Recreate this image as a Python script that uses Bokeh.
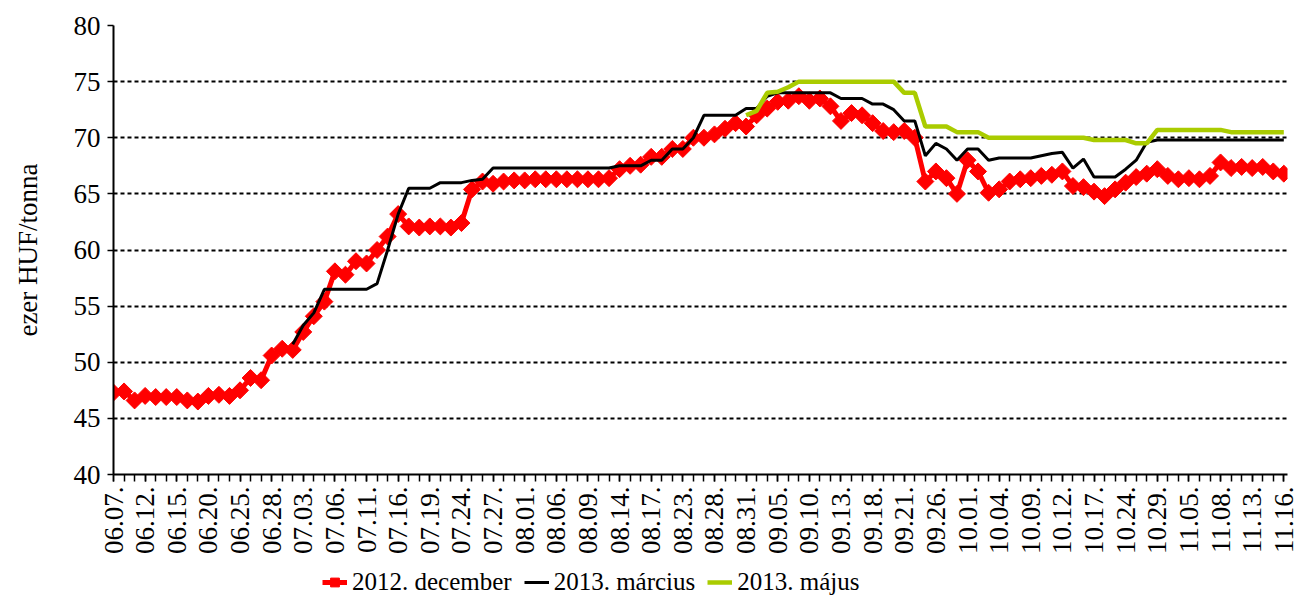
import math
import numpy as np
from bokeh.plotting import figure
from bokeh.layouts import column
from bokeh.models import Range1d, FixedTicker, Legend, LegendItem
from bokeh.embed import file_html
from bokeh.resources import INLINE

# ---- data ----
dates = ["06.07.", "06.08.", "06.11.", "06.12.", "06.13.", "06.14.", "06.15.", "06.18.", "06.19.", "06.20.",
         "06.21.", "06.22.", "06.25.", "06.26.", "06.27.", "06.28.", "06.29.", "07.02.", "07.03.", "07.04.",
         "07.05.", "07.06.", "07.09.", "07.10.", "07.11.", "07.12.", "07.13.", "07.16.", "07.17.", "07.18.",
         "07.19.", "07.20.", "07.23.", "07.24.", "07.25.", "07.26.", "07.27.", "07.30.", "07.31.", "08.01.",
         "08.02.", "08.03.", "08.06.", "08.07.", "08.08.", "08.09.", "08.10.", "08.13.", "08.14.", "08.15.",
         "08.16.", "08.17.", "08.21.", "08.22.", "08.23.", "08.24.", "08.27.", "08.28.", "08.29.", "08.30.",
         "08.31.", "09.03.", "09.04.", "09.05.", "09.06.", "09.07.", "09.10.", "09.11.", "09.12.", "09.13.",
         "09.14.", "09.17.", "09.18.", "09.19.", "09.20.", "09.21.", "09.24.", "09.25.", "09.26.", "09.27.",
         "09.28.", "10.01.", "10.02.", "10.03.", "10.04.", "10.05.", "10.08.", "10.09.", "10.10.", "10.11.",
         "10.12.", "10.15.", "10.16.", "10.17.", "10.18.", "10.19.", "10.24.", "10.25.", "10.26.", "10.29.",
         "10.30.", "10.31.", "11.05.", "11.06.", "11.07.", "11.08.", "11.09.", "11.12.", "11.13.", "11.14.",
         "11.15.", "11.16."]

dec2012 = [47.3, 47.4, 46.6, 47.0, 46.9, 46.9, 46.9, 46.6, 46.5, 47.0,
           47.1, 47.0, 47.5, 48.6, 48.4, 50.6, 51.2, 51.1, 52.7, 54.1,
           55.4, 58.1, 57.8, 59.0, 58.8, 60.0, 61.2, 63.2, 62.1, 62.0,
           62.1, 62.1, 62.0, 62.4, 65.4, 66.1, 65.9, 66.1, 66.2, 66.2,
           66.3, 66.3, 66.3, 66.3, 66.3, 66.3, 66.3, 66.4, 67.2, 67.5,
           67.6, 68.3, 68.3, 69.0, 69.0, 70.0, 70.0, 70.3, 70.8, 71.3,
           71.0, 72.0, 72.6, 73.2, 73.3, 73.7, 73.3, 73.5, 72.8, 71.5,
           72.2, 72.0, 71.3, 70.6, 70.5, 70.6, 70.0, 66.1, 67.0, 66.4,
           65.0, 68.0, 67.0, 65.1, 65.4, 66.1, 66.3, 66.4, 66.6, 66.7,
           67.0, 65.7, 65.6, 65.2, 64.8, 65.4, 66.0, 66.5, 66.8, 67.2,
           66.6, 66.3, 66.4, 66.3, 66.6, 67.8, 67.3, 67.4, 67.3, 67.4,
           67.0, 66.8]

mar2013 = [None] * 17 + [
    51.6, 53.3, 54.4, 56.5, 56.5, 56.5, 56.5, 56.5, 57.0, 60.0,
    63.2, 65.5, 65.5, 65.5, 66.0, 66.0, 66.0, 66.2, 66.3, 67.3,
    67.3, 67.3, 67.3, 67.3, 67.3, 67.3, 67.3, 67.3, 67.3, 67.3,
    67.3, 67.5, 67.5, 67.5, 68.0, 68.0, 69.0, 69.0, 70.0, 72.0,
    72.0, 72.0, 72.0, 72.6, 72.6, 73.7, 74.0, 74.0, 74.0, 74.0,
    74.0, 74.0, 73.5, 73.5, 73.5, 73.0, 73.0, 72.5, 71.5, 71.5,
    68.4, 69.5, 69.0, 68.0, 69.0, 69.0, 68.0, 68.2, 68.2, 68.2,
    68.2, 68.4, 68.6, 68.7, 67.3, 68.1, 66.5, 66.5, 66.5, 67.2,
    68.0, 69.6, 69.8, 69.8, 69.8, 69.8, 69.8, 69.8, 69.8, 69.8,
    69.8, 69.8, 69.8, 69.8, 69.8]

maj2013 = [None] * 60 + [
    72.0, 72.4, 74.0, 74.1, 74.5, 75.0, 75.0, 75.0, 75.0, 75.0,
    75.0, 75.0, 75.0, 75.0, 75.0, 74.0, 74.0, 71.0, 71.0, 71.0,
    70.5, 70.5, 70.5, 70.0, 70.0, 70.0, 70.0, 70.0, 70.0, 70.0,
    70.0, 70.0, 70.0, 69.8, 69.8, 69.8, 69.8, 69.5, 69.5, 70.7,
    70.7, 70.7, 70.7, 70.7, 70.7, 70.7, 70.5, 70.5, 70.5, 70.5,
    70.5, 70.5]

series_names = ["2012. december", "2013. március", "2013. május"]
y_ticks = [40, 45, 50, 55, 60, 65, 70, 75, 80]
label_every = 3


def clean(v):
    return [np.nan if a is None else a for a in v]


x = list(range(len(dates)))
FONT = "Liberation Serif"
FS = "27px"
RED, BLACK, GREEN = "#ff0000", "black", "#aacc00"

p = figure(frame_width=1174, frame_height=449,
           x_range=Range1d(0, len(dates) - 1 + 0.35), y_range=Range1d(40, 80),
           output_backend="svg", toolbar_location=None,
           min_border_left=113, min_border_top=25, min_border_right=11, min_border_bottom=92)
p.outline_line_color = None
p.background_fill_color = "white"

# axes
p.xaxis.ticker = FixedTicker(ticks=x[::label_every], minor_ticks=x)
p.xaxis.major_label_overrides = {i: dates[i] for i in x[::label_every]}
p.xaxis.major_label_orientation = math.pi / 2
p.xaxis.major_label_text_font = FONT
p.xaxis.major_label_text_font_size = FS
p.xaxis.major_label_text_color = "black"
p.xaxis.major_label_standoff = 5
p.xaxis.major_tick_in = 0
p.xaxis.major_tick_out = 7
p.xaxis.minor_tick_in = 0
p.xaxis.minor_tick_out = 7
p.xaxis.major_tick_line_color = "black"
p.xaxis.minor_tick_line_color = "black"
p.xaxis.major_tick_line_width = 1.5
p.xaxis.minor_tick_line_width = 1.5
p.xaxis.axis_line_color = "black"
p.xaxis.axis_line_width = 2

p.yaxis.ticker = FixedTicker(ticks=y_ticks, minor_ticks=[])
p.yaxis.major_label_text_font = FONT
p.yaxis.major_label_text_font_size = FS
p.yaxis.major_label_text_color = "black"
p.yaxis.major_label_standoff = 7
p.yaxis.major_tick_in = 0
p.yaxis.major_tick_out = 6
p.yaxis.major_tick_line_color = "black"
p.yaxis.major_tick_line_width = 1.5
p.yaxis.axis_line_color = "black"
p.yaxis.axis_line_width = 2
p.yaxis.axis_label = "ezer HUF/tonna"
p.yaxis.axis_label_text_font = FONT
p.yaxis.axis_label_text_font_size = FS
p.yaxis.axis_label_text_font_style = "normal"
p.yaxis.axis_label_text_color = "black"
p.yaxis.axis_label_standoff = 28

p.xgrid.visible = False
p.ygrid.ticker = FixedTicker(ticks=y_ticks[1:])
p.ygrid.grid_line_color = "black"
p.ygrid.grid_line_dash = "4 3"
p.ygrid.grid_line_width = 2


def draw(fig):
    a = fig.line(x, clean(dec2012), line_color=RED, line_width=5)
    b = fig.scatter(x, clean(dec2012), marker="square", angle=math.pi / 4, size=12,
                    fill_color=RED, line_color=RED)
    c = fig.line(x, clean(mar2013), line_color=BLACK, line_width=3)
    d = fig.line(x, clean(maj2013), line_color=GREEN, line_width=4.5)
    return a, b, c, d


draw(p)

# legend strip below the chart (same series, drawn outside its visible range)
leg = figure(width=1298, height=30, x_range=Range1d(0, 1), y_range=Range1d(0, 1),
             output_backend="svg", toolbar_location=None,
             x_axis_location=None, y_axis_location=None, min_border=0)
leg.outline_line_color = None
leg.grid.visible = False
la, lb, lc, ld = draw(leg)
legend = Legend(items=[
    LegendItem(label=series_names[0], renderers=[la, lb]),
    LegendItem(label=series_names[1], renderers=[lc]),
    LegendItem(label=series_names[2], renderers=[ld]),
], orientation="horizontal", location=(209, 0),
    label_text_font=FONT, label_text_font_size="25px", label_text_color="black",
    glyph_width=25, glyph_height=22, label_standoff=5, spacing=12, padding=0, margin=0,
    border_line_color=None, background_fill_alpha=0)
leg.add_layout(legend, "center")

layout = column(p, leg, spacing=0)
open("out.html", "w").write(file_html(layout, INLINE))
